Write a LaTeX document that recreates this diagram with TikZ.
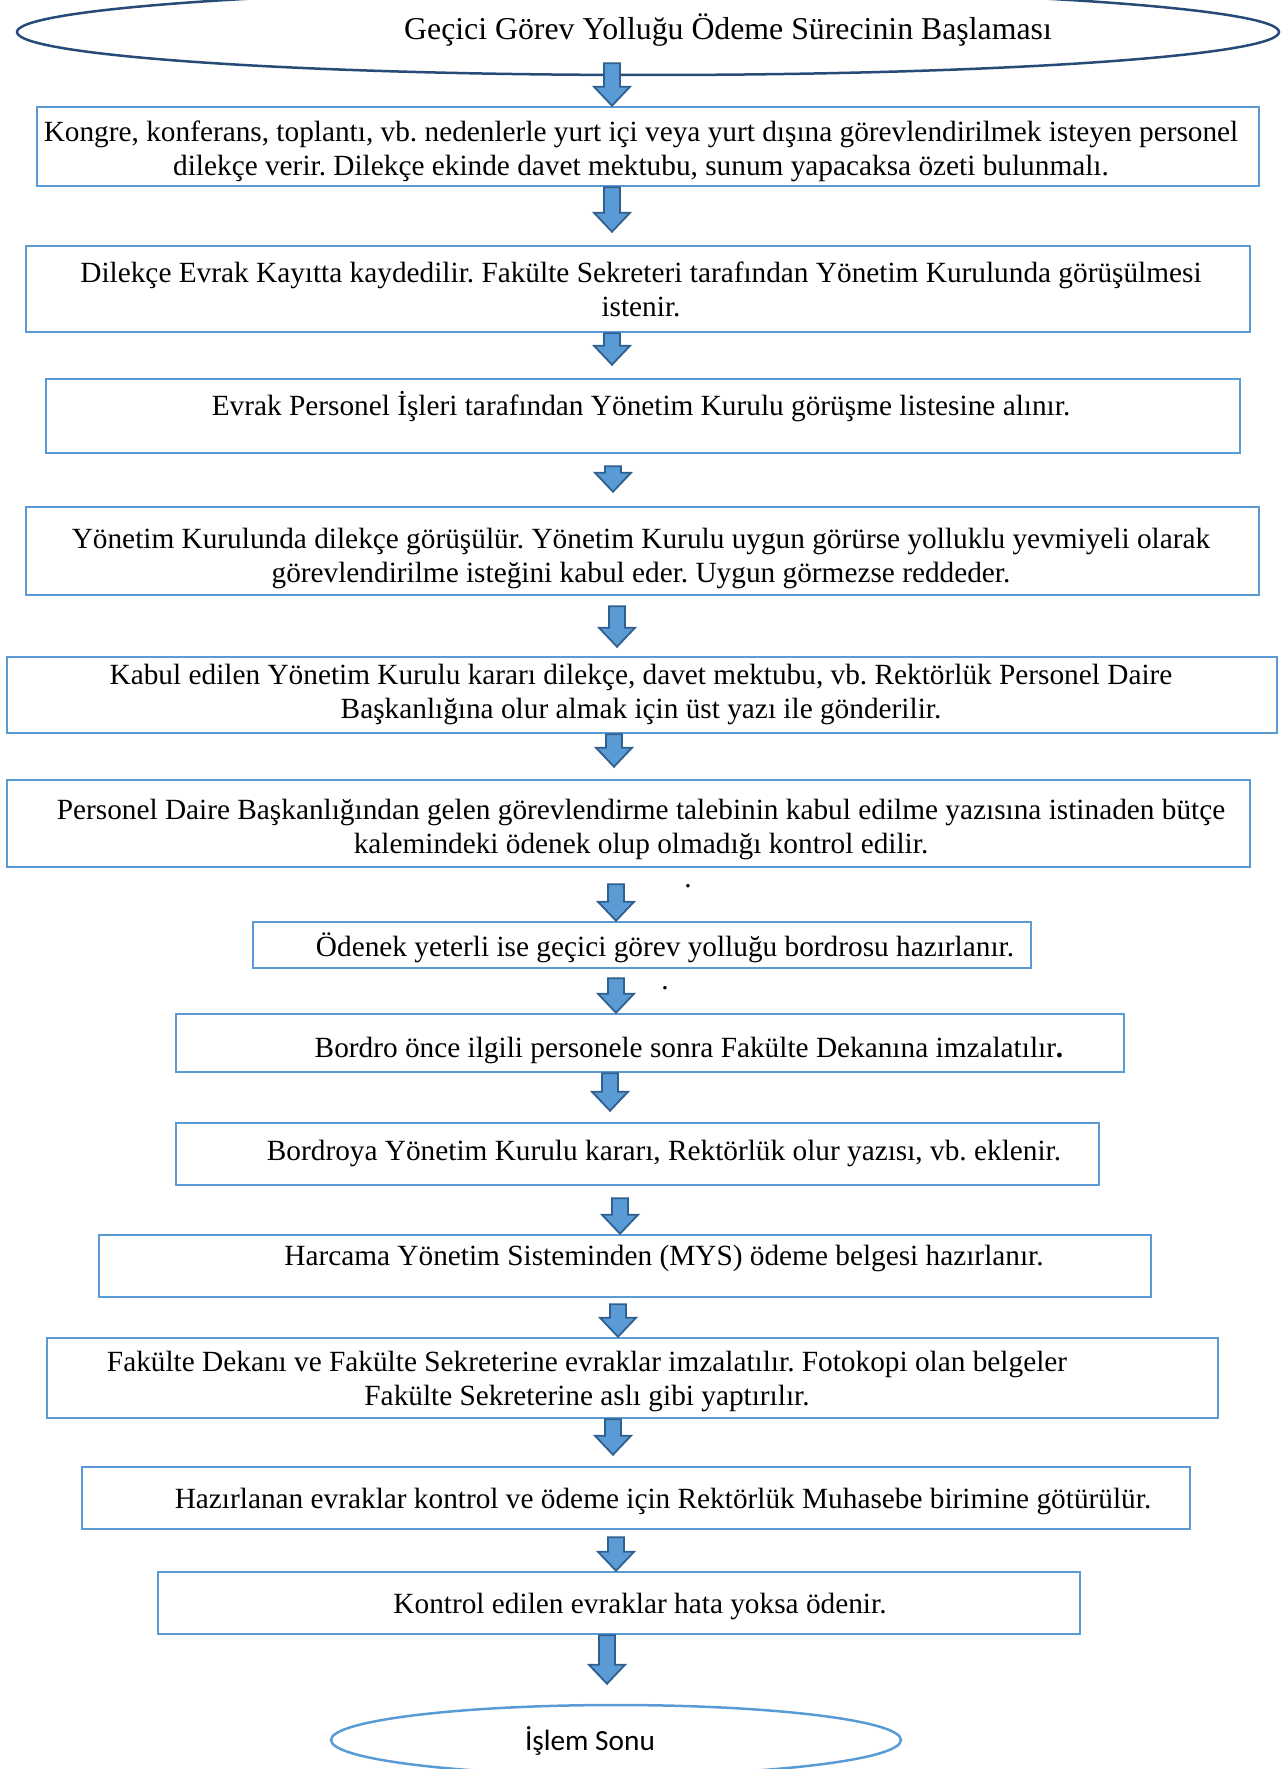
\documentclass[tikz,border=0pt]{standalone}
\usepackage{fontspec}
\setmainfont{Liberation Serif}
\newfontfamily\endfont{Carlito}
\usetikzlibrary{shapes.geometric,fit,calc}
\definecolor{boxblue}{HTML}{5B9BD5}
\definecolor{arrowedge}{HTML}{2E5F8E}
\definecolor{navy}{HTML}{264B78}
\tikzset{
  box/.style={draw=boxblue, line width=2.5pt, inner sep=0pt},
  txt/.style={inner sep=0pt, align=center, yshift=-2.5pt, font=\fontsize{29.3}{34}\selectfont},
  flowarr/.style={draw=arrowedge, fill=boxblue, line width=1.8pt, line join=miter},
}
% block arrow: #1 from node, #2 to node, #3 x of the shaft,
% #4 start shift (up = positive), #5 gap left above the target
\newcommand\flowarrow[5]{%
  \draw[flowarr] let \p1=(#1.south), \p2=(#2.north) in
    ({#3pt-8pt},{\y1+#4pt}) -- ({#3pt+8pt},{\y1+#4pt})
    -- ({#3pt+8pt},{\y2+#5pt+19pt}) -- ({#3pt+18pt},{\y2+#5pt+19pt})
    -- ({#3pt},{\y2+#5pt}) -- ({#3pt-18pt},{\y2+#5pt+19pt})
    -- ({#3pt-8pt},{\y2+#5pt+19pt}) -- cycle;}

\begin{document}
\frenchspacing
\begin{tikzpicture}[x=1pt,y=-1pt]
\useasboundingbox (0,0) rectangle (1282,1769);
\clip (0,0) rectangle (1282,1769);

% start and end terminals
\node[ellipse, draw=navy, line width=2.5pt, minimum width=1262pt, minimum height=86pt, inner sep=0pt] (st) at (648,32) {};
\node[inner sep=0pt, font=\fontsize{31.8}{36}\selectfont] (stT) at (728,30) {Geçici Görev Yolluğu Ödeme Sürecinin Başlaması};

\node[ellipse, draw=boxblue, line width=2.5pt, minimum width=570pt, minimum height=70pt, inner sep=0pt] (en) at (616,1740) {};
\node[inner sep=0pt, font=\endfont\fontsize{29.3}{34}\selectfont] (enT) at (590,1741) {İşlem Sonu};

% process boxes
\node[box, fit={(37,107) (1259,186)}] (b1) {};
\node[box, fit={(26,246) (1250,332)}] (b2) {};
\node[box, fit={(46,379) (1240,453)}] (b3) {};
\node[box, fit={(26,507) (1259,595)}] (b4) {};
\node[box, fit={(7,657) (1277,733)}] (b5) {};
\node[box, fit={(7,780) (1250,867)}] (b6) {};
\node[box, fit={(253,922) (1031,968)}] (b7) {};
\node[box, fit={(176,1014) (1124,1072)}] (b8) {};
\node[box, fit={(176,1123) (1099,1185)}] (b9) {};
\node[box, fit={(99,1235) (1151,1297)}] (b10) {};
\node[box, fit={(47,1338) (1218,1418)}] (b11) {};
\node[box, fit={(82,1467) (1190,1529)}] (b12) {};
\node[box, fit={(158,1572) (1080,1634)}] (b13) {};

% box texts
\node[txt] (t1) at (641,149) {Kongre, konferans, toplantı, vb. nedenlerle yurt içi veya yurt dışına görevlendirilmek isteyen personel\\dilekçe verir. Dilekçe ekinde davet mektubu, sunum yapacaksa özeti bulunmalı.};
\node[txt] (t2) at (641,287) {Dilekçe Evrak Kayıtta kaydedilir. Fakülte Sekreteri tarafından Yönetim Kurulunda görüşülmesi\\istenir.};
\node[txt] (t3) at (641,404) {Evrak Personel İşleri tarafından Yönetim Kurulu görüşme listesine alınır.};
\node[txt] (t4) at (641,556) {Yönetim Kurulunda dilekçe görüşülür. Yönetim Kurulu uygun görürse yolluklu yevmiyeli olarak\\görevlendirilme isteğini kabul eder. Uygun görmezse reddeder.};
\node[txt] (t5) at (641,692) {Kabul edilen Yönetim Kurulu kararı dilekçe, davet mektubu, vb. Rektörlük Personel Daire\\Başkanlığına olur almak için üst yazı ile gönderilir.};
\node[txt] (t6) at (641,827) {Personel Daire Başkanlığından gelen görevlendirme talebinin kabul edilme yazısına istinaden bütçe\\kalemindeki ödenek olup olmadığı kontrol edilir.};
\node[txt] (t7) at (665,945) {Ödenek yeterli ise geçici görev yolluğu bordrosu hazırlanır.};
\node[txt] (t8) at (689,1048) {Bordro önce ilgili personele sonra Fakülte Dekanına imzalatılır\textbf{.}};
\node[txt] (t9) at (664,1151) {Bordroya Yönetim Kurulu kararı, Rektörlük olur yazısı, vb. eklenir.};
\node[txt] (t10) at (664,1256) {Harcama Yönetim Sisteminden (MYS) ödeme belgesi hazırlanır.};
\node[txt] (t11) at (587,1379) {Fakülte Dekanı ve Fakülte Sekreterine evraklar imzalatılır. Fotokopi olan belgeler\\Fakülte Sekreterine aslı gibi yaptırılır.};
\node[txt] (t12) at (663,1499) {Hazırlanan evraklar kontrol ve ödeme için Rektörlük Muhasebe birimine götürülür.};
\node[txt] (t13) at (640,1604) {Kontrol edilen evraklar hata yoksa ödenir.};

% stray full stops
\node[txt, yshift=2.5pt, anchor=base] (d1) at (688,887) {.};
\node[txt, yshift=2.5pt, anchor=base] (d2) at (665,989) {.};

% block arrows
\flowarrow{st}{b1}{612}{13}{0}
\flowarrow{b1}{b2}{612}{0}{13}
\flowarrow{b2}{b3}{612}{0}{13}
\flowarrow{b3}{b4}{613}{-12}{14}
\flowarrow{b4}{b5}{617}{-10}{9}
\flowarrow{b5}{b6}{614}{0}{12}
\flowarrow{b6}{b7}{616}{-16}{0}
\flowarrow{b7}{b8}{616}{-9}{0}
\flowarrow{b8}{b9}{610}{0}{11}
\flowarrow{b9}{b10}{620}{-12}{0}
\flowarrow{b10}{b11}{618}{-6}{0}
\flowarrow{b11}{b12}{613}{0}{11}
\flowarrow{b12}{b13}{616}{-7}{0}
\flowarrow{b13}{en}{607}{0}{20}
\end{tikzpicture}
\end{document}
